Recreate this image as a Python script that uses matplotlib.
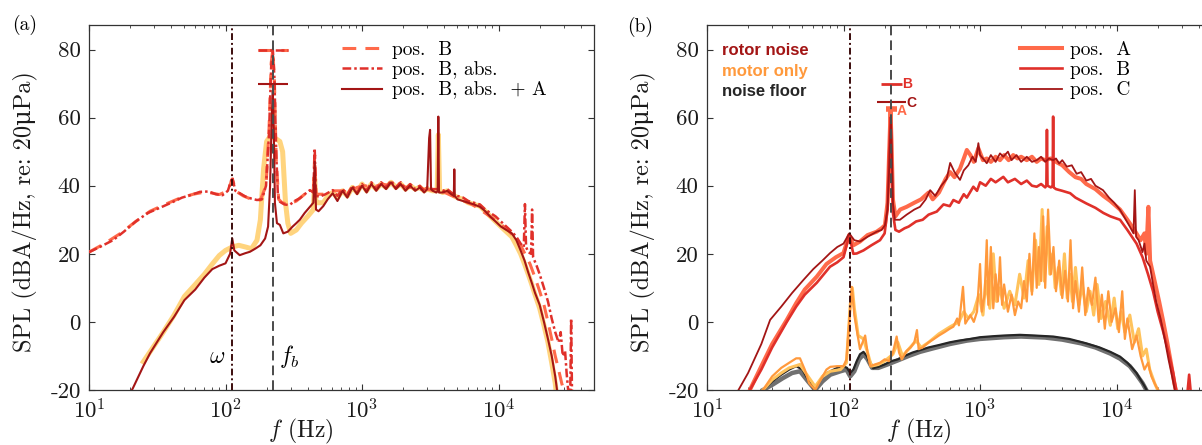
import matplotlib
matplotlib.use("Agg")
import matplotlib.pyplot as plt
from matplotlib.ticker import FuncFormatter

plt.rcParams.update({
    "font.family": ["cmr10", "DejaVu Serif"],
    "mathtext.fontset": "cm",
    "axes.unicode_minus": False,
    "axes.formatter.use_mathtext": True,
})

# ---------------- characteristic frequencies ----------------
omega_f = 112.0      # shaft frequency (Hz)
fb_f = 224.0         # blade passing frequency (Hz)
yticks = [-20, 0, 20, 40, 60, 80]

# ---------------- panel (a) data ----------------
a_ref_f = [25, 30, 35, 42, 50, 60, 70, 80, 90, 100, 112, 125, 140, 155, 170,
           180, 190, 200, 212, 230, 250, 262, 275, 286, 300, 330, 360, 400, 440, 450,
           460, 480, 520, 560, 610, 660, 720, 780, 850, 920, 1000, 1080, 1170, 1270, 1380,
           1500, 1630, 1770, 1920, 2080, 2250, 2450, 2650, 2850, 3000, 3300, 3550, 3620, 3700, 3900,
           4200, 4500, 5000, 5500, 6000, 6600, 7300, 8000, 8700, 9500, 10400, 11400, 12500, 13500, 14500,
           15500, 16500, 17500, 18500, 20000, 21500, 23000, 24500, 26000, 26500]
a_ref_v = [-11.7, -7, -3, 2, 7.5, 11, 14, 17, 19.5, 21, 22, 22.5, 22, 21.5, 24,
           30, 45, 53, 54.5, 54, 53, 50, 35, 29, 26, 27, 29, 31, 33, 42,
           35, 35, 35, 37, 38, 36.5, 38.5, 37, 39.5, 38, 40.5, 38.5, 40.5, 39, 40.5,
           39.5, 41, 39.5, 40.5, 39, 40, 39, 39.5, 38.5, 39, 38.5, 38.5, 55, 38.5, 38,
           38.5, 37.5, 36.5, 36, 35, 34.5, 34, 32.5, 31, 29.5, 28, 26.5, 25, 22.5, 20,
           17, 14, 11, 8, 4, -1, -6, -12, -18, -21]

a_B_f = [10, 13, 17, 22, 28, 36, 46, 58, 72, 90, 104, 112, 120, 135, 155,
         180, 198, 208, 216, 222, 228, 235, 245, 260, 290, 330, 380, 440, 450, 460,
         520, 600, 700, 800, 920, 1050, 1200, 1400, 1600, 1850, 2100, 2400, 2700, 3000, 3400,
         3800, 4300, 4900, 5600, 6400, 7300, 8300, 9400, 10500, 11700, 13000, 14300, 15600, 17000, 18500,
         20000, 21500, 23000, 24500, 26000, 27500, 29000, 30500]
a_B_v = [20.5, 23, 26, 29.5, 32.5, 34.5, 36.3, 37.5, 38.2, 37.4, 38.5, 42, 38.3, 37, 36,
         35.8, 40, 56, 76, 80, 71, 48, 36, 35, 34.5, 35.5, 37.5, 38.5, 49, 37.5,
         37.5, 38.5, 38.5, 38, 39.5, 40, 39.5, 40.5, 40, 40.5, 39.5, 39.5, 39, 39, 38.5,
         38.5, 37.5, 36.5, 35.5, 34.5, 33, 31.5, 30, 28.5, 27, 25, 23, 20, 17, 13,
         9, 5, 0, -5, -10, -14, -18, -21]

a_Babs_f = [10, 12, 15, 18, 22, 27, 33, 40, 48, 56, 65, 75, 85, 95, 104,
            112, 118, 127, 140, 155, 170, 185, 198, 208, 216, 222, 228, 235, 242, 250,
            270, 294, 320, 350, 380, 415, 440, 450, 460, 490, 540, 610, 660, 720, 780,
            850, 920, 1000, 1080, 1170, 1270, 1380, 1500, 1630, 1770, 1920, 2080, 2250, 2450, 2650,
            2850, 3000, 3300, 3600, 3900, 4200, 4500, 5000, 5500, 6000, 6600, 7300, 8000, 8700, 9500,
            10400, 11400, 12500, 13500, 14500, 15300, 15600, 15900, 16500, 17300, 17600, 17900, 19000, 20000, 21500,
            23000, 24500, 26000, 27500, 28500, 29500, 30700, 31500, 32500, 33500, 34000, 34500]
a_Babs_v = [20.5, 22, 24, 26.5, 29.5, 32, 33.5, 35, 36.5, 37.3, 38.2, 38.3, 37.5, 37.2, 38.5,
            42.5, 38.5, 37.8, 36.8, 36.2, 35.8, 36, 40, 55, 75, 80, 72, 50, 37, 35.3,
            34.5, 34.3, 35.5, 36.3, 37.5, 38.7, 38, 51, 37, 36.8, 37.5, 38.7, 37, 39, 37.5,
            40, 38, 40.5, 38.5, 41, 39, 41, 39.5, 41.5, 39.5, 41, 39, 40.5, 39, 40,
            38.5, 39.5, 39, 39, 38.5, 39, 38, 37, 36.5, 35.5, 35, 34.5, 33, 32, 31,
            29.5, 28, 26.5, 25, 23, 22, 34.6, 22, 20.5, 20, 33, 19, 16.5, 14, 10,
            6, 1, -3, -6, -3, -10, -8.5, -15, -21, -21, 1, -21]

a_BabsA_f = [20, 21, 25, 28, 35, 42, 50, 60, 70, 80, 90, 100, 108, 112, 116,
             127, 140, 151, 165, 180, 195, 205, 212, 218, 222, 226, 230, 238, 250, 265,
             286, 310, 330, 350, 380, 415, 440, 450, 460, 480, 520, 560, 610, 660, 720,
             780, 850, 920, 1000, 1080, 1170, 1270, 1380, 1500, 1630, 1770, 1920, 2080, 2250, 2450,
             2650, 2850, 3000, 3100, 3150, 3200, 3300, 3500, 3580, 3620, 3660, 3900, 4200, 4500, 4700,
             4740, 4780, 5000, 5500, 6000, 6600, 7300, 8000, 8700, 9500, 10400, 11400, 12500, 13500, 14500,
             15500, 16500, 17500, 18500, 20000, 21500, 23000, 24500, 26000, 27000]
a_BabsA_v = [-21, -19.4, -13, -9.2, -3, 1.5, 6.4, 9.5, 13, 15.5, 16.5, 17.2, 20, 24.5, 21,
             19.6, 20.2, 20.6, 21.5, 22.5, 24.5, 28, 40, 60, 68, 55, 35, 29, 28.5, 26,
             26.5, 28, 29, 30, 32, 33.8, 35, 47, 33, 32.5, 34, 36, 37.8, 35.5, 38.5,
             36.5, 39.5, 37.5, 40, 38, 40.5, 38.5, 40.5, 39, 41, 39, 40.5, 38.5, 40, 38.5,
             39.5, 38, 39, 54, 56.4, 39, 38.5, 38, 38.5, 60.3, 38, 38, 38.5, 37.5, 37,
             44.8, 37, 36, 35.5, 35, 34.5, 33.8, 32.5, 30.9, 29.5, 28, 27, 26, 24, 21,
             18, 14.5, 11.5, 8.5, 5, 0, -5, -10, -16, -21]

a_marker_levels = [80, 80, 70]      # peak levels at f_b: pos. B, pos. B abs., pos. B abs. + A
a_marker_ratio = 1.29

# ---------------- panel (b) data ----------------
b_A_f = [20.6, 25, 30, 38.4, 45, 52, 63.7, 75, 88, 99.8, 110, 118, 132, 150, 175,
         190, 201, 210, 216, 221, 225, 230, 240, 260, 290, 330, 370, 420, 450, 500,
         560, 604, 650, 713, 760, 800, 850, 900, 972, 1050, 1120, 1200, 1300, 1400, 1500,
         1620, 1750, 1880, 2000, 2200, 2400, 2600, 2800, 3000, 3300, 3600, 4000, 4500, 5000, 5500,
         6000, 7000, 8000, 9000, 10600, 12000, 13500, 15000, 16000, 16500, 17100, 17600, 19000, 20500, 22000,
         23500, 25000, 26500, 27500]
b_A_v = [-20, -13, -6.5, 0.6, 5.5, 9.5, 13.3, 17, 19, 20.2, 25.5, 22.5, 23.6, 25.5, 26.5,
         27.5, 28.4, 35, 50, 62, 52, 36, 31, 33, 33.8, 35, 36, 38, 36, 38,
         42, 44, 42.5, 45, 48, 50.5, 49, 47, 51, 47.5, 48, 47, 48.5, 47.5, 49,
         47.5, 49, 48, 48.5, 47.5, 48.5, 47, 48, 47.5, 48, 47, 46, 44, 42.5, 42,
         40.5, 39, 37, 35.5, 33, 30, 27, 24, 26, 20, 33.8, 18, 12, 6, 0,
         -6, -12, -18, -21]

b_B_f = [20.6, 25, 30, 38.4, 45, 52, 63.7, 79.6, 90, 100, 110, 118, 125, 140, 160,
         185, 200, 210, 216, 221, 225, 230, 240, 255, 280, 300, 340, 380, 420, 482,
         540, 600, 638, 700, 760, 800, 893, 950, 1000, 1100, 1200, 1300, 1480, 1600, 1800,
         2000, 2200, 2400, 2600, 2800, 3000, 3060, 3090, 3120, 3300, 3400, 3430, 3460, 3600, 4000,
         4570, 5000, 6000, 7000, 8000, 9000, 10600, 12000, 14000, 15500, 17000, 18500, 20000, 22000, 24000,
         26000, 27600, 33000, 34000, 35000]
b_B_v = [-20, -14, -7.5, 0, 4.5, 8, 11.5, 16.2, 17.5, 19, 25.5, 20, 20.1, 21, 22.5,
         24, 26, 33, 50, 60, 48, 32, 27, 26.5, 27.5, 28, 29.5, 30, 31.5, 32.4,
         34.5, 34, 35.8, 35, 37.5, 36.5, 39.7, 38.5, 41, 40, 42, 41, 42.6, 41, 42,
         40.5, 41.5, 40, 39.7, 40.5, 39.5, 40, 56.4, 40, 39.5, 40, 60.3, 39.5, 39, 38.5,
         37.8, 36.5, 34.8, 33.5, 32, 31, 30, 27, 23, 19, 14, 9, 3, -3, -9,
         -15, -21, -21, -15.5, -21]

b_C_f = [17, 20, 25, 29, 35, 42, 50.8, 60, 70, 79.6, 90, 100, 110, 120, 132,
         150, 175, 190, 201, 210, 216, 220, 223, 226, 230, 238, 259, 290, 330, 363,
         400, 431, 470, 520, 570, 604, 650, 713, 760, 820, 880, 930, 972, 1000, 1050,
         1120, 1200, 1300, 1400, 1480, 1600, 1700, 1850, 2000, 2200, 2400, 2600, 2800, 3000, 3200,
         3430, 3600, 3800, 4000, 4320, 4700, 5100, 5500, 6000, 6500, 7000, 7950, 8800, 9600, 10600,
         11500, 12500, 13300, 13600, 13900, 14500, 15500, 16000, 16500, 17600, 18500, 19500, 21000, 22500, 24000,
         25500, 27000]
b_C_v = [-20, -15, -6.5, 0.6, 4.5, 8.5, 12.3, 15.5, 18, 20.2, 22, 23, 26, 24, 23.6,
         25, 26.5, 27, 28.4, 33, 45, 55, 60, 50, 35, 30, 30, 31.5, 33, 33.8,
         36, 38.7, 37, 40, 42, 46.7, 44, 41.7, 44.5, 46, 48.5, 47, 52.5, 49, 48,
         46.6, 49, 47, 49.5, 48.5, 50, 47.5, 49, 47, 48.5, 47, 47.5, 48.5, 47, 48,
         47.5, 48, 46.5, 47.5, 45.6, 46, 43.5, 44, 41.5, 42, 40, 38.7, 36.5, 35, 32.9,
         30.5, 28, 26, 38.7, 25, 24, 20.5, 23, 18, 16.2, 11, 6, 1, -5, -11,
         -16, -21]

b_M1_f = [25.7, 30, 35, 40, 45, 48, 52, 56, 62, 68, 75, 80, 90, 100, 105,
          110, 115, 120, 125, 132, 138, 144, 150, 157, 170, 185, 200, 215, 230, 245,
          255, 267, 290, 310, 330, 345, 355, 380, 420, 460, 500, 550, 600, 638, 680,
          700, 750, 780, 850, 900, 950, 1000, 1030, 1080, 1120, 1150, 1200, 1250, 1300, 1350,
          1400, 1450, 1500, 1600, 1700, 1800, 1900, 2000, 2100, 2200, 2300, 2400, 2500, 2600, 2700,
          2800, 2900, 3000, 3150, 3300, 3450, 3600, 3800, 4000, 4200, 4400, 4600, 4800, 5000, 5300,
          5600, 5900, 6200, 6600, 7000, 7400, 7800, 8200, 8700, 9200, 9800, 10400, 11000, 11500, 12000,
          13000, 14000, 15000, 16000, 17000, 18000, 19500, 21000]
b_M1_v = [-20, -16, -13.5, -12, -10.7, -10.7, -14, -18, -20, -17, -14, -13.2, -13, -13, -11,
          0, 10.3, 2, -2.4, -8, -6, -4, -9, -13, -12.5, -12, -11, -11.5, -9, -4.3,
          -9, -11, -8.5, -7.5, -6, -2.4, -8, -7.5, -6, -5, -4, -3, -2, -1.4, 1,
          -1, 10.3, -0.5, 2, 0, 3, 17, 3, 8, 24, 5, 22, 4, 14, 6,
          19, 5, 11, 3, 8, 2, 6, 4, 12, 6, 20, 8, 26, 10, 22,
          12, 31, 10, 33, 14, 22, 9, 18, 7, 15, 6, 24, 4, 12, 3,
          16, 2, 10, 5, 13, 0, 8, -2, 9, 0, 4, -3, 9, -5, 1,
          -8, -4, -10, -14, -12, -16, -19, -21]

b_M2_f = [25.7, 30, 35, 40, 48, 55, 62, 70, 80, 95, 105, 112, 116, 120, 128,
          140, 150, 160, 180, 200, 230, 250, 270, 300, 340, 370, 420, 500, 600, 700,
          760, 820, 900, 980, 1050, 1100, 1180, 1250, 1320, 1400, 1500, 1650, 1800, 1950, 2100,
          2250, 2400, 2550, 2700, 2850, 2950, 3100, 3250, 3400, 3550, 3750, 3950, 4150, 4350, 4550,
          4750, 5000, 5300, 5600, 6000, 6400, 6800, 7200, 7700, 8300, 9000, 9600, 10200, 10800, 11500,
          12500, 13500, 14500, 15500, 16500, 17500, 19000, 20500]
b_M2_v = [-20, -17, -15, -13.5, -12.5, -16, -19, -16, -14.5, -14, -12, 5, 10, 4, -4,
          -5, -9, -13, -12.5, -11.5, -9.5, -6, -10, -8, -5.5, -7.5, -6, -3.5, -1.5, 0,
          3, 1, 3, 8, 2, 12, 4, 20, 6, 10, 4, 9, 5, 14, 7,
          18, 9, 24, 11, 33, 12, 28, 14, 20, 10, 16, 8, 20, 7, 14,
          6, 16, 5, 11, 3, 9, 2, 11, 1, 6, -1, 7, -2, 3, -3,
          2, -6, -2, -10, -8, -14, -18, -21]

b_N1_f = [25.7, 30, 35, 40, 45, 50, 55, 60, 65, 72, 80, 90, 100, 106, 112,
          118, 125, 132, 140, 148, 157, 165, 180, 200, 225, 250, 280, 320, 363, 420,
          500, 600, 700, 850, 1000, 1250, 1500, 1960, 2500, 3430, 4500, 6000, 7500, 9000, 10600,
          12000, 13000, 14000, 15000, 16000, 16600]
b_N1_v = [-20, -17.5, -15.5, -14, -13, -14, -17, -19.5, -18, -15.5, -14.5, -13.5, -13, -13.5, -15,
          -14, -11.5, -9.5, -8.8, -10, -12.5, -13.6, -13.2, -12.5, -11.5, -11, -10, -9, -8.3, -7.5,
          -6.8, -6, -5.5, -5, -4.5, -4.2, -4, -3.8, -4, -4.3, -5, -6.3, -7.5, -8.8, -10.2,
          -12, -13.5, -15, -17, -18.8, -20]

b_N2_f = [25.7, 30, 36, 42, 48, 55, 62, 70, 80, 95, 105, 112, 120, 130, 140,
          150, 162, 180, 210, 250, 300, 363, 450, 600, 800, 1000, 1500, 2000, 3000, 4000,
          5500, 7000, 9000, 10600, 12500, 14000, 15500, 16500]
b_N2_v = [-20, -18.5, -16.5, -15, -14.5, -17.5, -20, -17.5, -15.5, -14.5, -14, -16, -14.5, -11, -9.5,
          -11, -13.5, -13.5, -12.5, -11.3, -10, -8.8, -7.8, -6.5, -5.5, -5, -4.5, -4.3, -4.6, -5.2,
          -6.3, -7.5, -9.3, -10.8, -13, -15.5, -18, -20]

b_marker_names = ["A", "B", "C"]
b_marker_levels = [62.5, 70, 64.5]
b_marker_ratio = [1.1, 1.19, 1.27]
b_label_f = [243, 267, 287]
b_label_levels = [61.8, 70, 64.3]

# ---------------- colours ----------------
c_yellow = "#ffd47e"
c_salmon = "#ff6a4a"
c_red = "#e0302a"
c_dark = "#a31515"
c_orange = "#ff993c"
c_light = "#ffc35c"
c_black = "#262626"
c_gray = "#707070"
c_omega = "#3b0c0c"
c_fb = "#4a4a4a"

for name, (fx, vy) in {"a_ref": (a_ref_f, a_ref_v), "a_B": (a_B_f, a_B_v), "a_Babs": (a_Babs_f, a_Babs_v),
                       "a_BabsA": (a_BabsA_f, a_BabsA_v), "b_A": (b_A_f, b_A_v), "b_B": (b_B_f, b_B_v),
                       "b_C": (b_C_f, b_C_v), "b_M1": (b_M1_f, b_M1_v), "b_M2": (b_M2_f, b_M2_v),
                       "b_N1": (b_N1_f, b_N1_v), "b_N2": (b_N2_f, b_N2_v)}.items():
    if len(fx) != len(vy):
        raise ValueError(f"{name}: {len(fx)} vs {len(vy)}")

W, H = 1202, 445
fig = plt.figure(figsize=(W / 100, H / 100), dpi=100)
ax1 = fig.add_axes([89 / W, 55 / H, 505 / W, 365 / H])
ax2 = fig.add_axes([707 / W, 55 / H, 505 / W, 365 / H])


def style(ax):
    ax.set_xscale("log")
    ax.set_xlim(10, 5e4)
    ax.set_ylim(-20, 87.2)
    ax.set_yticks(yticks)
    ax.yaxis.set_major_formatter(FuncFormatter(lambda v, p: f"{v:.0f}"))
    ax.tick_params(which="both", direction="in", top=True, right=True,
                   colors="#333333", labelcolor="#1a1a1a", labelsize=16.5)
    ax.tick_params(which="major", length=4.5, width=0.8, pad=6)
    ax.tick_params(which="minor", length=2.5, width=0.6)
    for s in ax.spines.values():
        s.set_color("#333333")
        s.set_linewidth(0.9)
    ax.set_xlabel(r"$f$ (Hz)", fontsize=17, color="#1a1a1a")
    ax.xaxis.set_label_coords(0.42, -0.075)
    ax.set_ylabel("SPL (dBA/Hz, re: 20μPa)", fontsize=17.5, color="#1a1a1a")
    ax.yaxis.set_label_coords(-0.1, 0.49)
    ax.axvline(omega_f, color=c_omega, lw=1.4, dashes=(3.5, 1.5, 1, 1.5), zorder=6)
    ax.axvline(fb_f, color=c_fb, lw=1.4, dashes=(5, 2.6), zorder=6)


style(ax1)
style(ax2)

# ---------------- panel (a) ----------------
ax1.plot(a_ref_f, a_ref_v, color=c_yellow, lw=3.6, solid_joinstyle="round", zorder=2)
hB, = ax1.plot(a_B_f, a_B_v, color=c_salmon, lw=2.2, dashes=(4.5, 3), zorder=3, label="pos.  B")
hBa, = ax1.plot(a_Babs_f, a_Babs_v, color=c_red, lw=1.8, dashes=(3.5, 1.2, 1, 1.2), zorder=4,
                label="pos.  B, abs.")
hBaA, = ax1.plot(a_BabsA_f, a_BabsA_v, color=c_dark, lw=1.5, zorder=5, label="pos.  B, abs.  + A")

ax1.hlines(a_marker_levels[0], fb_f / a_marker_ratio, fb_f * a_marker_ratio, color=c_salmon,
           lw=2.2, linestyles=(0, (4.5, 3)), zorder=5)
ax1.hlines(a_marker_levels[1], fb_f / a_marker_ratio, fb_f * a_marker_ratio, color=c_red,
           lw=1.8, linestyles=(0, (3.5, 1.2, 1, 1.2)), zorder=5)
ax1.hlines(a_marker_levels[2], fb_f / a_marker_ratio, fb_f * a_marker_ratio, color=c_dark,
           lw=1.5, zorder=5)

ax1.legend(handles=[hB, hBa, hBaA], loc="upper left", bbox_to_anchor=(0.501, 0.957),
           frameon=False, fontsize=14, handlelength=2.06, handletextpad=0.52,
           labelspacing=0.12, borderpad=0, borderaxespad=0)

ax1.text(omega_f * 0.77, -10.3, r"$\omega$", fontsize=17, ha="center", va="center")
ax1.text(fb_f * 1.1, -10.3, r"$f_b$", fontsize=17, ha="left", va="center")

# ---------------- panel (b) ----------------
ax2.plot(b_N2_f, b_N2_v, color=c_gray, lw=3.2, zorder=2)
ax2.plot(b_N1_f, b_N1_v, color=c_black, lw=1.6, zorder=2.1)
ax2.plot(b_M2_f, b_M2_v, color=c_light, lw=2.2, zorder=2.2)
ax2.plot(b_M1_f, b_M1_v, color=c_orange, lw=1.6, zorder=2.3)
hA, = ax2.plot(b_A_f, b_A_v, color=c_salmon, lw=2.9, zorder=3, label="pos.  A")
hBb, = ax2.plot(b_B_f, b_B_v, color=c_red, lw=1.9, zorder=3.2, label="pos.  B")
hC, = ax2.plot(b_C_f, b_C_v, color=c_dark, lw=1.3, zorder=3.4, label="pos.  C")

b_colors = [c_salmon, c_red, c_dark]
b_lws = [4.0, 2.0, 1.5]
for name, lev, rat, lf, ll, col, lw in zip(b_marker_names, b_marker_levels, b_marker_ratio,
                                           b_label_f, b_label_levels, b_colors, b_lws):
    ax2.hlines(lev, fb_f / rat, fb_f * rat, color=col, lw=lw, zorder=5)
    ax2.text(lf, ll, name, color=col, fontsize=10, fontweight="bold",
             family="Liberation Sans", ha="left", va="center", zorder=7)

ax2.legend(handles=[hA, hBb, hC], loc="upper left", bbox_to_anchor=(0.62, 0.957),
           frameon=False, fontsize=14, handlelength=2.16, handletextpad=0.42,
           labelspacing=0.12, borderpad=0, borderaxespad=0)

for txt, col, yy in [("rotor noise", c_dark, 0.9296), ("motor only", c_orange, 0.873),
                     ("noise floor", c_black, 0.817)]:
    ax2.text(0.03, yy, txt, transform=ax2.transAxes, color=col, fontsize=12,
             fontweight="bold", family="Liberation Sans", ha="left", va="center")

fig.text(25 / W, 1 - 25 / H, "(a)", fontsize=14, ha="center", va="center")
fig.text(640 / W, 1 - 27 / H, "(b)", fontsize=14, ha="center", va="center")

fig.savefig("out.png", dpi=100)
